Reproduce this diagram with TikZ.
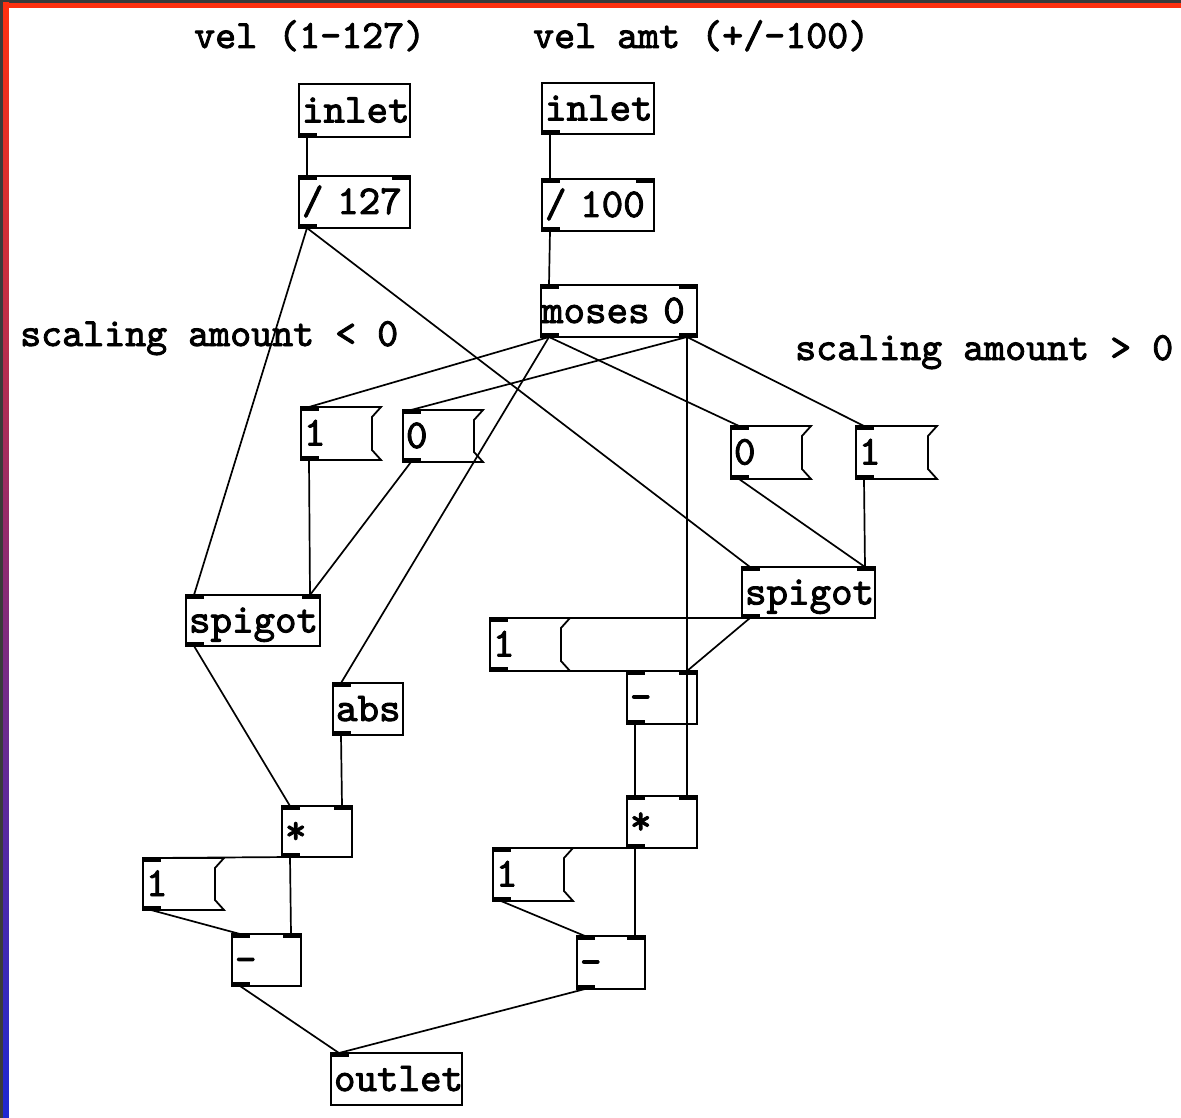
\documentclass[tikz,border=0pt]{standalone}
\usepackage{fontspec}
\newfontfamily\pdfamily{lmmono10-regular}[Extension=.otf, FakeBold=2.2]
\usetikzlibrary{calc}
\definecolor{pdgray}{RGB}{58,58,58}
\definecolor{pdred}{RGB}{255,48,16}
\definecolor{pdmid}{RGB}{205,30,90}
\definecolor{pdblue}{RGB}{30,40,210}
\newcommand\pdIL[1]{\fill (#1.north west) rectangle ++(18,4);}
\newcommand\pdIR[1]{\fill (#1.north east) rectangle ++(-18,4);}
\newcommand\pdOL[1]{\fill (#1.south west) rectangle ++(18,-4);}
\newcommand\pdOR[1]{\fill (#1.south east) rectangle ++(-18,-4);}
\newcommand\pdFlag[1]{\draw[line width=1.8pt] (#1.north west) -- (#1.north east) -- ++(-9,10) -- ($(#1.south east)+(-9,-10)$) -- (#1.south east) -- (#1.south west) -- cycle;}
\begin{document}
\begin{tikzpicture}[x=1pt,y=-1pt,
  pdfont/.style={font=\pdfamily\fontsize{41}{41}\selectfont},
  obj/.style={draw, line width=1.8pt, rectangle, outer sep=0pt, inner xsep=3pt, inner ysep=0pt, align=left, text height=28pt, text depth=4pt, pdfont},
  msg/.style={obj, draw=none},
  wire/.style={line width=1.7pt},
  cmt/.style={font=\pdfamily\fontsize{40}{40}\selectfont, inner sep=0pt, anchor=base west}]
\useasboundingbox (0,0) rectangle (1181,1118);
\fill[pdgray] (0,0) rectangle (1181,1118);
\fill[pdred] (3,3) rectangle (1181,8);
\shade[top color=pdred, middle color=pdmid, bottom color=pdblue] (3,3) rectangle (9,1118);
\fill[white] (9,8) rectangle (1181,1118);

% comments
\node[cmt] (c1) at (194,48) {vel (1-127)};
\node[cmt] (c2) at (533,48) {vel amt (+/-100)};
\node[cmt] (c3) at (20,346) {scaling amount < 0};
\node[cmt] (c4) at (795,360) {scaling amount > 0};

% objects
\node[obj, text width=105pt, minimum height=53pt] (inletA) at (354.5,110.5) {inlet};
\node[obj, text width=105pt, minimum height=52pt] (divA) at (354.5,202) {\mbox{/ 127}};
\node[obj, text width=106pt, minimum height=51pt] (inletB) at (598,108.5) {inlet};
\node[obj, text width=106pt, minimum height=52pt] (divB) at (598,205) {\mbox{/ 100}};
\node[obj, minimum height=52pt, inner xsep=1pt, text width=154pt] (moses) at (619,311) {\mbox{moses 0}};
\node[msg, text width=74pt, minimum height=53pt] (mA) at (341,433.5) {1};
\node[msg, text width=74pt, minimum height=52pt] (mB) at (443,436) {0};
\node[msg, text width=74pt, minimum height=53pt] (mC) at (771,452.5) {0};
\node[msg, text width=75pt, minimum height=53pt] (mD) at (896.5,452.5) {1};
\node[obj, text width=128pt, minimum height=51pt] (spL) at (253,620.5) {spigot};
\node[obj, text width=127pt, minimum height=51pt] (spR) at (808.5,592.5) {spigot};
\node[msg, text width=74pt, minimum height=53pt] (mE) at (530,644.5) {1};
\node[obj, text width=64pt, minimum height=53pt] (subA) at (662,697.5) {-};
\node[obj, text width=64pt, minimum height=52pt] (absA) at (368,709) {abs};
\node[obj, text width=64pt, minimum height=51pt] (mulL) at (317,831.5) {*};
\node[obj, text width=64pt, minimum height=52pt] (mulR) at (662,822) {*};
\node[msg, text width=75pt, minimum height=52pt] (mF) at (183.5,884) {1};
\node[msg, text width=74pt, minimum height=53pt] (mG) at (533,874.5) {1};
\node[obj, text width=63pt, minimum height=52pt] (subL) at (266.5,960) {-};
\node[obj, text width=62pt, minimum height=53pt] (subR) at (611,962.5) {-};
\node[obj, text width=125pt, minimum height=52pt] (outl) at (396.5,1079) {outlet};

% message flags
\pdFlag{mA}\pdFlag{mB}\pdFlag{mC}\pdFlag{mD}\pdFlag{mE}\pdFlag{mF}\pdFlag{mG}

% ports
\pdOL{inletA}\pdOL{inletB}
\pdIL{divA}\pdIR{divA}\pdOL{divA}
\pdIL{divB}\pdIR{divB}\pdOL{divB}
\pdIL{moses}\pdIR{moses}\pdOL{moses}\pdOR{moses}
\pdIL{mA}\pdOL{mA}\pdIL{mB}\pdOL{mB}\pdIL{mC}\pdOL{mC}\pdIL{mD}\pdOL{mD}
\pdIL{mE}\pdOL{mE}\pdIL{mF}\pdOL{mF}\pdIL{mG}\pdOL{mG}
\pdIL{spL}\pdIR{spL}\pdOL{spL}
\pdIL{spR}\pdIR{spR}\pdOL{spR}
\pdIL{subA}\pdIR{subA}\pdOL{subA}
\pdIL{absA}\pdOL{absA}
\pdIL{mulL}\pdIR{mulL}\pdOL{mulL}
\pdIL{mulR}\pdIR{mulR}\pdOL{mulR}
\pdIL{subL}\pdIR{subL}\pdOL{subL}
\pdIL{subR}\pdIR{subR}\pdOL{subR}
\pdIL{outl}

% wires
\draw[wire] ([xshift=8pt]inletA.south west) -- ([xshift=8pt]divA.north west);
\draw[wire] ([xshift=8pt]inletB.south west) -- ([xshift=8pt]divB.north west);
\draw[wire] ([xshift=8pt]divB.south west) -- ([xshift=8pt]moses.north west);
\draw[wire] ([xshift=8pt]divA.south west) -- ([xshift=8pt]spL.north west);
\draw[wire] ([xshift=8pt]divA.south west) -- ([xshift=8pt]spR.north west);
\draw[wire] ([xshift=8pt]moses.south west) -- ([xshift=8pt]mA.north west);
\draw[wire] ([xshift=8pt]moses.south west) -- ([xshift=8pt]mC.north west);
\draw[wire] ([xshift=8pt]moses.south west) -- ([xshift=8pt]absA.north west);
\draw[wire] ([xshift=-10pt]moses.south east) -- ([xshift=8pt]mB.north west);
\draw[wire] ([xshift=-10pt]moses.south east) -- ([xshift=8pt]mD.north west);
\draw[wire] ([xshift=-10pt]moses.south east) -- ([xshift=-10pt]mulR.north east);
\draw[wire] ([xshift=8pt]mA.south west) -- ([xshift=-10pt]spL.north east);
\draw[wire] ([xshift=8pt]mB.south west) -- ([xshift=-10pt]spL.north east);
\draw[wire] ([xshift=8pt]mC.south west) -- ([xshift=-10pt]spR.north east);
\draw[wire] ([xshift=8pt]mD.south west) -- ([xshift=-10pt]spR.north east);
\draw[wire] ([xshift=8pt]spR.south west) -- ([xshift=8pt]mE.north west);
\draw[wire] ([xshift=8pt]spR.south west) -- ([xshift=-10pt]subA.north east);
\draw[wire] ([xshift=8pt]mE.south west) -- ([xshift=8pt]subA.north west);
\draw[wire] ([xshift=8pt]subA.south west) -- ([xshift=8pt]mulR.north west);
\draw[wire] ([xshift=8pt]spL.south west) -- ([xshift=8pt]mulL.north west);
\draw[wire] ([xshift=8pt]absA.south west) -- ([xshift=-10pt]mulL.north east);
\draw[wire] ([xshift=8pt]mulL.south west) -- ([xshift=8pt]mF.north west);
\draw[wire] ([xshift=8pt]mulL.south west) -- ([xshift=-10pt]subL.north east);
\draw[wire] ([xshift=8pt]mF.south west) -- ([xshift=8pt]subL.north west);
\draw[wire] ([xshift=8pt]mulR.south west) -- ([xshift=8pt]mG.north west);
\draw[wire] ([xshift=8pt]mulR.south west) -- ([xshift=-10pt]subR.north east);
\draw[wire] ([xshift=8pt]mG.south west) -- ([xshift=8pt]subR.north west);
\draw[wire] ([xshift=8pt]subL.south west) -- ([xshift=8pt]outl.north west);
\draw[wire] ([xshift=8pt]subR.south west) -- ([xshift=8pt]outl.north west);
\end{tikzpicture}
\end{document}
